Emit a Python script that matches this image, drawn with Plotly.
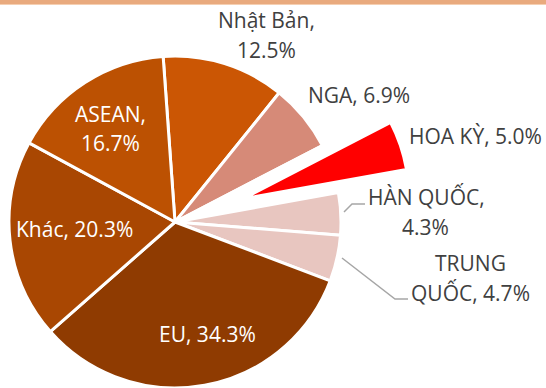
import math
import plotly.graph_objects as go

# Export market shares (percent)
labels = ["Nhật Bản", "NGA", "HOA KỲ", "HÀN QUỐC", "TRUNG QUỐC", "EU", "Khác", "ASEAN"]
values = [12.5, 6.9, 5.0, 4.3, 4.7, 34.3, 20.3, 16.7]
colors = ["#CB5604", "#D68A78", "#FF0000", "#E8C6C0", "#E8C6C0", "#8F3B01", "#A94702", "#BC5102"]
highlight = "HOA KỲ"

W, H = 546, 388
FONT = "Open Sans"
FONT_SIZE = 21


def px(x, y):
    """Pixel position (top-left origin) -> paper coordinates."""
    return x / W, 1 - y / H


# Pie geometry in pixels
cx, cy, r = 175, 222, 166
pull_px = 72           # how far the highlighted slice is moved out
rotation = -4.1        # first slice starts slightly left of 12 o'clock

total = sum(values)
start = rotation
mid_angle = {}
for lab, v in zip(labels, values):
    span = v / total * 360
    mid_angle[lab] = start + span / 2
    start += span

a = math.radians(mid_angle[highlight])
hx, hy = cx + pull_px * math.sin(a), cy - pull_px * math.cos(a)


def domain(xc, yc):
    x0, y1 = px(xc - r, yc - r)
    x1, y0 = px(xc + r, yc + r)
    return dict(x=[max(0, x0), min(1, x1)], y=[max(0, y0), min(1, y1)])


base_colors = ["rgba(0,0,0,0)" if l == highlight else c for l, c in zip(labels, colors)]
top_colors = [c if l == highlight else "rgba(0,0,0,0)" for l, c in zip(labels, colors)]
top_line = ["white" if l == highlight else "rgba(0,0,0,0)" for l in labels]

fig = go.Figure()
fig.add_trace(go.Pie(
    labels=labels, values=values, sort=False, direction="clockwise",
    rotation=rotation, textinfo="none", hoverinfo="label+value",
    marker=dict(colors=base_colors, line=dict(color="white", width=3)),
    domain=domain(cx, cy), showlegend=False,
))
fig.add_trace(go.Pie(
    labels=labels, values=values, sort=False, direction="clockwise",
    rotation=rotation, textinfo="none", hoverinfo="label+value",
    marker=dict(colors=top_colors, line=dict(color=top_line, width=3)),
    domain=domain(hx, hy), showlegend=False,
))

# Label placement: pixel centre of each text line, text colour, line-break style
label_layout = {
    "Nhật Bản":   ([(266, 20), (266, 50)], "#404040", "wrap"),
    "NGA":        ([(359, 95)], "#404040", "one"),
    "HOA KỲ":     ([(475, 136)], "#404040", "one"),
    "HÀN QUỐC":   ([(426, 197), (425, 227)], "#404040", "wrap"),
    "TRUNG QUỐC": ([(470, 263), (470, 293)], "#404040", "split"),
    "EU":         ([(207, 334)], "white", "one"),
    "Khác":       ([(74, 229)], "white", "one"),
    "ASEAN":      ([(110, 114), (110, 143)], "white", "wrap"),
}

for lab, v in zip(labels, values):
    pos, col, mode = label_layout[lab]
    if mode == "wrap":
        lines = [f"{lab},", f"{v:.1f}%"]
    elif mode == "split":
        first, rest = lab.split(" ", 1)
        lines = [first, f"{rest}, {v:.1f}%"]
    else:
        lines = [f"{lab}, {v:.1f}%"]
    for (lx, ly), txt in zip(pos, lines):
        x, y = px(lx, ly)
        fig.add_annotation(x=x, y=y, xref="paper", yref="paper", text=txt,
                           showarrow=False, xanchor="center", yanchor="middle",
                           font=dict(family=FONT, size=FONT_SIZE, color=col))

# Leader lines for the two small slices
leaders = [
    [(344, 212), (352, 204), (365, 204)],
    [(342, 258), (395, 299), (408, 299)],
]
for pts in leaders:
    path = "M " + " L ".join(f"{px(x, y)[0]},{px(x, y)[1]}" for x, y in pts)
    fig.add_shape(type="path", path=path, xref="paper", yref="paper",
                  line=dict(color="#A6A6A6", width=1.5))

# Decorative band along the top edge
fig.add_shape(type="rect", xref="paper", yref="paper", x0=0, x1=1,
              y0=1 - 4 / H, y1=1, fillcolor="#E9AA7E", line_width=0, layer="below")
fig.add_shape(type="rect", xref="paper", yref="paper", x0=0, x1=1,
              y0=1 - 5 / H, y1=1 - 4 / H, fillcolor="#F5CFB2", line_width=0, layer="below")

fig.update_layout(
    width=W, height=H, margin=dict(l=0, r=0, t=0, b=0),
    paper_bgcolor="white", plot_bgcolor="white",
)

fig.write_html("out.html")
